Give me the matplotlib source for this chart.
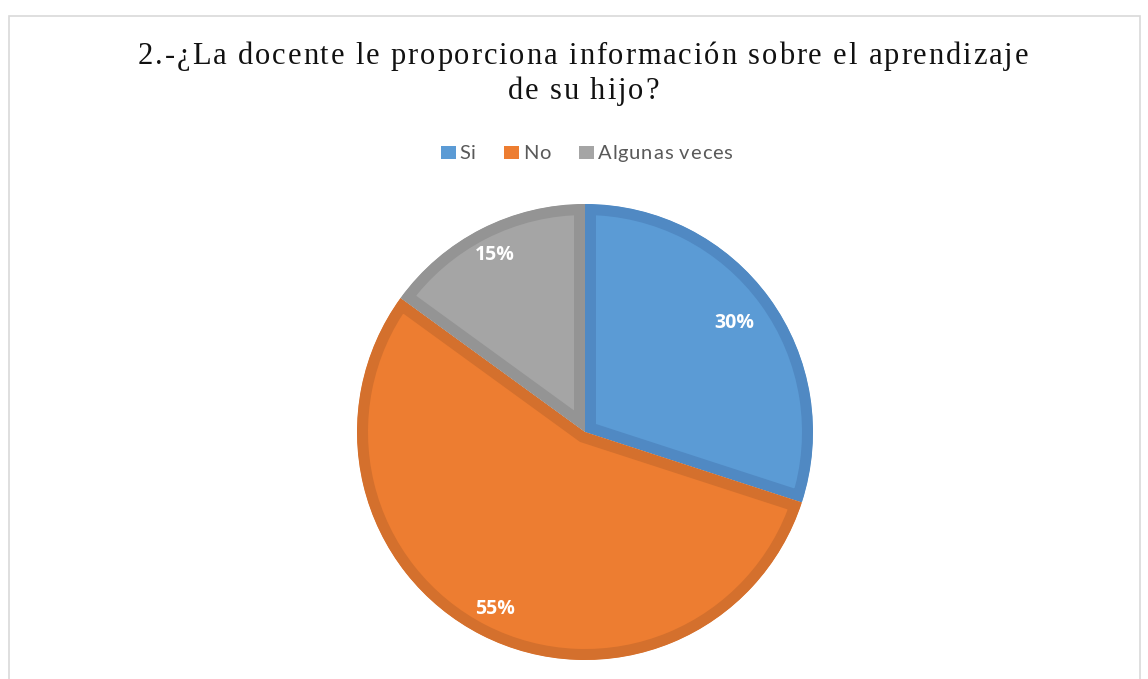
import matplotlib
matplotlib.use("Agg")
import matplotlib.pyplot as plt
from matplotlib.patches import Rectangle
from matplotlib.font_manager import FontProperties, findfont
from matplotlib.ft2font import FT2Font, LoadFlags
import numpy as np

# Data
categories = ["Si", "No", "Algunas veces"]
values = [30, 55, 15]
pct_labels = ["30%", "55%", "15%"]
title_lines = ["2.-¿La docente le proporciona información sobre el aprendizaje",
               "de su hijo?"]

# Styles
fill_colors = ["#5B9BD5", "#ED7D31", "#A5A5A5"]
edge_colors = ["#5089C3", "#D4702D", "#949494"]
label_radius = [0.81, 0.87, 0.87]

W, H = 1148, 679
DPI = 100
fig = plt.figure(figsize=(W / DPI, H / DPI), dpi=DPI)
fig.patch.set_facecolor("white")


def advances(s, prop):
    font = FT2Font(findfont(prop))
    font.set_size(prop.get_size_in_points(), DPI)
    out = []
    for ch in s:
        g = font.load_char(ord(ch), flags=LoadFlags.NO_HINTING)
        out.append(g.linearHoriAdvance / 65536.0)
    return out


def spaced_width(s, prop, spacing):
    adv = advances(s, prop)
    return sum(adv) + spacing * (len(s) - 1)


def spaced_text(x_left, baseline, s, prop, spacing, color):
    adv = advances(s, prop)
    x = x_left
    for ch, a in zip(s, adv):
        if ch != " ":
            fig.text(x / W, 1 - baseline / H, ch, ha="left", va="baseline",
                     fontproperties=prop, color=color)
        x += a + spacing
    return x - spacing


# chart frame
fig.add_artist(Rectangle((8.5 / W, -0.05), (1140 - 8.5) / W, 1.05 - 15.5 / H,
                         transform=fig.transFigure, fill=False,
                         edgecolor="#D9D9D9", linewidth=1.2))

# pie axes
cx, cy, R = 585, 432, 228
ax = fig.add_axes([(cx - R) / W, (H - cy - R) / H, 2 * R / W, 2 * R / H])

wedges, _ = ax.pie(values, colors=fill_colors, startangle=90, counterclock=False,
                   radius=1.0, wedgeprops=dict(linewidth=0))
ax.set_xlim(-1, 1)
ax.set_ylim(-1, 1)
ax.set_aspect("equal")
ax.axis("off")

stroke_px = 11
for w, ec in zip(wedges, edge_colors):
    w.set_edgecolor(ec)
    w.set_linewidth(2 * stroke_px * 72 / DPI)
    w.set_clip_on(True)
    w.set_clip_path(w.get_path(), w.get_transform())

for w, lab, rr in zip(wedges, pct_labels, label_radius):
    ang = np.deg2rad((w.theta1 + w.theta2) / 2)
    ax.text(rr * np.cos(ang), rr * np.sin(ang), lab, ha="center", va="center",
            color="white", fontsize=14, fontweight="bold", family="Open Sans")

# title (slightly letter-spaced, centered)
title_prop = FontProperties(family="Liberation Serif", size=22)
title_spacing = 1.9
for line, base in zip(title_lines, [64, 99]):
    wdt = spaced_width(line, title_prop, title_spacing)
    spaced_text(583 - wdt / 2, base, line, title_prop, title_spacing, "#111111")

# legend (manual layout)
leg_prop = FontProperties(family="Lato", size=14.5)
leg_spacing = 0.8
sq, sq_gap, entry_gap = 15, 4, 28
widths = [spaced_width(c, leg_prop, leg_spacing) for c in categories]
total = sum(sq + sq_gap + w for w in widths) + entry_gap * (len(categories) - 1)
x = 586.5 - total / 2
leg_base = 159
for c, col, wdt in zip(categories, fill_colors, widths):
    fig.add_artist(Rectangle((x / W, 1 - 159 / H), sq / W, 13 / H,
                             transform=fig.transFigure, facecolor=col,
                             edgecolor="none"))
    spaced_text(x + sq + sq_gap, leg_base, c, leg_prop, leg_spacing, "#595959")
    x += sq + sq_gap + wdt + entry_gap

fig.savefig("out.png", dpi=DPI, facecolor="white")
